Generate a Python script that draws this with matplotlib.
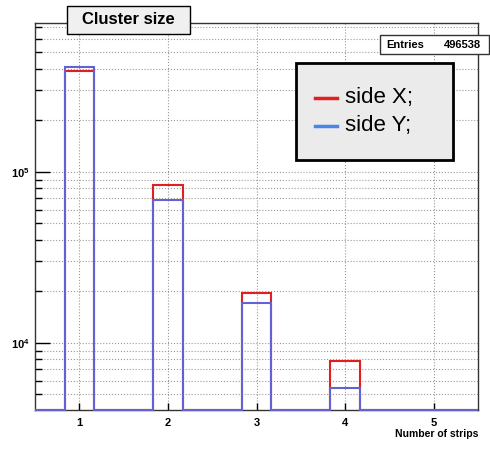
import numpy as np
import matplotlib
matplotlib.use("Agg")
import matplotlib.pyplot as plt
from matplotlib.patches import Rectangle
from matplotlib.ticker import LogLocator, NullFormatter

plt.rcParams['font.family'] = ['Liberation Sans', 'DejaVu Sans']
plt.rcParams['mathtext.fontset'] = 'custom'
plt.rcParams['mathtext.rm'] = 'Liberation Sans:bold'
plt.rcParams['mathtext.it'] = 'Liberation Sans:bold'
plt.rcParams['mathtext.bf'] = 'Liberation Sans:bold'

# data: cluster size (number of strips) -> counts
strips = [1, 2, 3, 4, 5]
side_x = [390000, 83600, 19500, 7850, 0]
side_y = [411000, 68200, 17000, 5430, 0]
entries = 496538
xtick_labels = ["1", "2", "3", "4", "5"]

# histogram binning: 3 bins per unit, 0.5 .. 5.5
edges = np.linspace(0.5, 5.5, 16)
centers = 0.5 * (edges[:-1] + edges[1:])
ymin, ymax = 4040, 741000


def fill_bins(vals):
    h = np.zeros(len(centers))
    for s, v in zip(strips, vals):
        h[np.argmin(np.abs(centers - s))] = v
    return np.maximum(h, ymin)


fig = plt.figure(figsize=(4.9, 4.49), dpi=100)
ax = fig.add_axes([35 / 490, 39 / 449, 443 / 490, 387 / 449])

ax.stairs(fill_bins(side_x), edges, color='#e02020', lw=1.5, baseline=None,
          zorder=3, clip_on=False)
ax.stairs(fill_bins(side_y), edges, color='#6262d2', lw=1.5, baseline=None,
          zorder=3, clip_on=False)

ax.set_yscale('log')
ax.set_xlim(0.5, 5.5)
ax.set_ylim(ymin, ymax)

ax.set_xticks(strips, labels=xtick_labels, fontsize=8, fontweight='bold')
ax.set_yticks([1e4, 1e5], labels=[r'$10^{4}$', r'$10^{5}$'], fontsize=8)
ax.yaxis.set_minor_locator(LogLocator(base=10, subs=np.arange(2, 10)))
ax.yaxis.set_minor_formatter(NullFormatter())
ax.tick_params(axis='x', direction='in', length=5, width=1, pad=6)
ax.tick_params(axis='y', which='major', direction='in', length=11, width=1, pad=4)
ax.tick_params(axis='y', which='minor', direction='in', length=5, width=1)

ax.grid(True, which='both', axis='y', color='#999999', ls=':', lw=0.8)
ax.grid(True, which='major', axis='x', color='#999999', ls=':', lw=0.8)
ax.set_axisbelow(True)
for sp in ax.spines.values():
    sp.set_color('#333333')
    sp.set_linewidth(1)

fig.text(478 / 490, 1 - 434 / 449, "Number of strips", ha='right', va='center',
         fontsize=7.5, fontweight='bold')

# title box
fig.patches.append(Rectangle((67 / 490, 1 - 34 / 449), 123 / 490, 28 / 449,
                             transform=fig.transFigure, facecolor='#f0f0f0',
                             edgecolor='black', lw=1))
fig.text(128 / 490, 1 - 20 / 449, "Cluster size", ha='center', va='center',
         fontsize=12, fontweight='bold')

# stats box
fig.patches.append(Rectangle((380 / 490, 1 - 54 / 449), 109 / 490, 19 / 449,
                             transform=fig.transFigure, facecolor='white',
                             edgecolor='#333333', lw=1))
fig.text(386 / 490, 1 - 44.5 / 449, "Entries", ha='left', va='center',
         fontsize=8, fontweight='bold')
fig.text(481 / 490, 1 - 44.5 / 449, f"{entries}", ha='right', va='center',
         fontsize=8, fontweight='bold')

# legend box
fig.patches.append(Rectangle((296 / 490, 1 - 160 / 449), 157 / 490, 97 / 449,
                             transform=fig.transFigure, facecolor='#ebebeb',
                             edgecolor='black', lw=2))
for yy, col, lab in [(98, '#e02020', 'side X;'), (126, '#4a86e8', 'side Y;')]:
    fig.lines.append(plt.Line2D([315 / 490, 337 / 490], [1 - yy / 449] * 2,
                                transform=fig.transFigure, color=col, lw=2.5))
    fig.text(345 / 490, 1 - yy / 449, lab, ha='left', va='center', fontsize=16)

fig.savefig("out.png", dpi=100)
